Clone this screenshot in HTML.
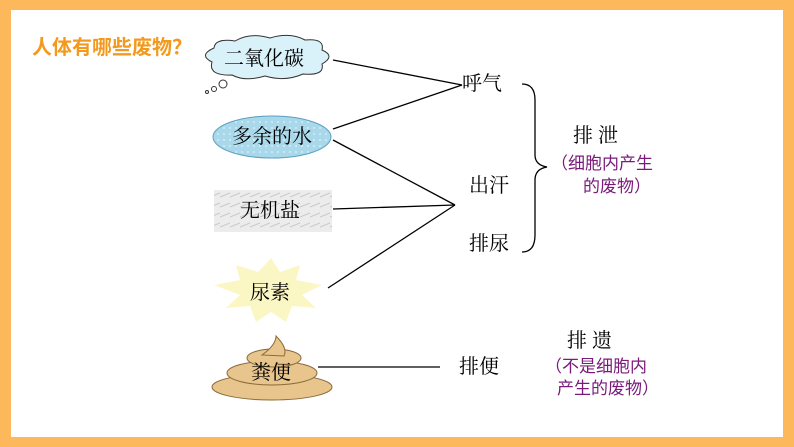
<!DOCTYPE html>
<html><head><meta charset="utf-8"><style>
body{margin:0;width:794px;height:447px;overflow:hidden;background:#FDB85B;font-family:"Liberation Sans","Noto Sans CJK SC",sans-serif;}
#c{position:absolute;left:11px;top:10px;width:772px;height:427px;background:#fff;}
.t{position:absolute;font-size:20px;color:#000;white-space:nowrap;line-height:1;font-family:"Liberation Serif","Noto Serif CJK SC",serif;}
.p{position:absolute;font-size:17px;color:#7a1a7a;white-space:nowrap;line-height:1;}
</style></head><body>
<div id="c"></div>
<svg width="794" height="447" style="position:absolute;left:0;top:0">
<defs>
<pattern id="w" width="6" height="6" patternUnits="userSpaceOnUse"><rect width="6" height="6" fill="#a8d8ea"/><circle cx="2" cy="2" r="1" fill="#d3edf6"/></pattern>
<pattern id="s" width="10" height="10" patternUnits="userSpaceOnUse"><rect width="10" height="10" fill="#ececec"/><path d="M0 7 L10 3" stroke="#c8c8c8" stroke-width="1"/></pattern>
</defs>
<path d="M212 62 Q198 55 214 48 Q215 38 235 41 Q250 32 270 38 Q290 32 305 40 Q325 38 322 50 Q336 56 322 64 Q325 76 303 74 Q285 82 265 76 Q245 82 232 75 Q208 76 212 62Z" fill="#d9f1f8" stroke="#333" stroke-width="1"/>
<circle cx="223" cy="84" r="4" fill="#fff" stroke="#333"/><circle cx="214" cy="89" r="2.5" fill="#fff" stroke="#333"/><circle cx="207" cy="92" r="1.5" fill="#fff" stroke="#333"/>
<ellipse cx="272" cy="137" rx="59" ry="21" fill="url(#w)" stroke="#5a9fc0"/>
<rect x="214" y="190" width="118" height="42" fill="url(#s)"/>
<path d="M271 258 L280 272 L300 265 L296 280 L322 285 L302 295 L316 308 L292 306 L286 322 L271 312 L256 322 L250 306 L226 308 L240 295 L214 285 L240 280 L236 265 L258 272Z" fill="#fbf7c4"/>
<ellipse cx="272" cy="387" rx="60" ry="13" fill="#e8c58c" stroke="#8a6a3a"/>
<ellipse cx="272" cy="373" rx="45" ry="12" fill="#e8c58c" stroke="#8a6a3a"/>
<ellipse cx="274" cy="358" rx="27" ry="9" fill="#e8c58c" stroke="#8a6a3a"/>
<path d="M262 355 Q276 345 276 336 Q288 348 284 356Z" fill="#e8c58c" stroke="#8a6a3a"/>
<g stroke="#000" stroke-width="1.3" fill="none">
<line x1="333" y1="60" x2="462" y2="85"/>
<line x1="333" y1="129" x2="462" y2="85"/>
<line x1="333" y1="140" x2="455" y2="205"/>
<line x1="333" y1="209" x2="455" y2="205"/>
<line x1="328" y1="288" x2="455" y2="205"/>
<line x1="318" y1="367" x2="440" y2="367"/>
<path d="M522 84 Q535 84 535 100 L535 155 Q535 165 547 167 Q535 169 535 180 L535 235 Q535 252 522 252"/>
</g>
</svg>
<div class="t" style="left:32px;top:38px;color:#F39A1E;font-weight:bold;font-size:20px;font-family:'Liberation Sans','Noto Sans CJK SC',sans-serif">人体有哪些废物？</div>
<div class="t" style="left:224px;top:49px">二氧化碳</div>
<div class="t" style="left:232px;top:127px">多余的水</div>
<div class="t" style="left:240px;top:201px">无机盐</div>
<div class="t" style="left:250px;top:283px">尿素</div>
<div class="t" style="left:251px;top:363px">粪便</div>
<div class="t" style="left:462px;top:74px">呼气</div>
<div class="t" style="left:469px;top:176px">出汗</div>
<div class="t" style="left:469px;top:234px">排尿</div>
<div class="t" style="left:573px;top:126px">排 泄</div>
<div class="p" style="left:551px;top:155px">（细胞内产生</div>
<div class="p" style="left:583px;top:178px">的废物）</div>
<div class="t" style="left:459px;top:357px">排便</div>
<div class="t" style="left:567px;top:331px">排 遗</div>
<div class="p" style="left:545px;top:358px">（不是细胞内</div>
<div class="p" style="left:557px;top:380px">产生的废物）</div>
</body></html>
